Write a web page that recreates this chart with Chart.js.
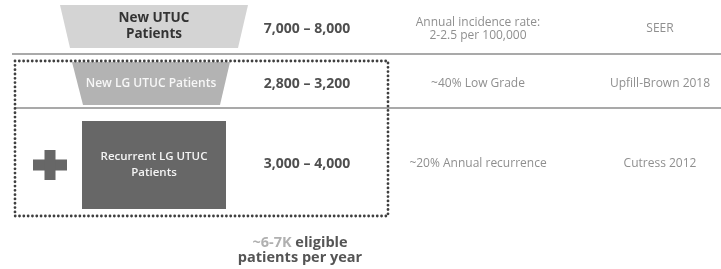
<!DOCTYPE html>
<html>
<head>
<meta charset="utf-8">
<script src="https://cdn.jsdelivr.net/npm/chart.js@4/dist/chart.umd.min.js"></script>
<style>
  html, body { margin: 0; padding: 0; background: #ffffff; }
  #wrap { width: 721px; height: 269px; }
</style>
</head>
<body>
<div id="wrap"><canvas id="c" width="721" height="269"></canvas></div>
<script>
// ---------- DATA ----------
const categories = ["New UTUC\nPatients", "New LG UTUC Patients", "Recurrent LG UTUC\nPatients"];
const lowValues  = [7000, 2800, 3000];
const highValues = [8000, 3200, 4000];
const notes      = ["Annual incidence rate:\n2-2.5 per 100,000", "~40% Low Grade", "~20% Annual recurrence"];
const sources    = ["SEER", "Upfill-Brown 2018", "Cutress 2012"];
const eligibleRange = "~6-7K";
const eligibleText  = ["eligible", "patients per year"];

// ---------- LAYOUT / STYLE (not data) ----------
const FONT = "'Open Sans', 'DejaVu Sans', sans-serif";
const LAYOUT = {
  rows: [
    { top: 5,   bottom: 48,  topL: 60, topR: 248, botL: 70, botR: 238, fill: "#d4d4d4", text: "#333333", font: "bold 13.5px", lineH: 16 },
    { top: 62,  bottom: 105, topL: 72, topR: 230, botL: 83, botR: 220, fill: "#b3b3b3", text: "#f7f7f7", font: "600 12px",   lineH: 15 },
    { top: 121, bottom: 209, topL: 82, topR: 226, botL: 82, botR: 226, fill: "#676767", text: "#f4f4f4", font: "600 11.5px", lineH: 16 }
  ],
  rowCenters: [29, 84, 164],
  colNumbers: 307,
  colNotes: 478,
  colSources: 660,
  dividers: [{ y: 54, x0: 12 }, { y: 108, x0: 15 }],
  dotBox: { x0: 15, x1: 388, y0: 61, y1: 216 },
  plus: { cx: 50, cy: 165, arm: 34, thick: 11 },
  footerY: [243, 258],
  footerX: 300
};

const fmt = v => v.toLocaleString('en-US');

const drawPlugin = {
  id: 'infographic',
  afterDraw(chart) {
    const ctx = chart.ctx;
    const xs = chart.scales.x, ys = chart.scales.y;
    const X = v => xs.getPixelForValue(v);
    const Y = v => ys.getPixelForValue(v);
    ctx.save();

    ctx.strokeStyle = "#a9a9a9";
    ctx.lineWidth = 2;
    LAYOUT.dividers.forEach(d => {
      ctx.beginPath();
      ctx.moveTo(X(d.x0), Y(d.y));
      ctx.lineTo(X(721), Y(d.y));
      ctx.stroke();
    });

    LAYOUT.rows.forEach((r, i) => {
      ctx.fillStyle = r.fill;
      ctx.beginPath();
      ctx.moveTo(X(r.topL), Y(r.top));
      ctx.lineTo(X(r.topR), Y(r.top));
      ctx.lineTo(X(r.botR), Y(r.bottom));
      ctx.lineTo(X(r.botL), Y(r.bottom));
      ctx.closePath();
      ctx.fill();

      const lines = categories[i].split("\n");
      ctx.fillStyle = r.text;
      ctx.font = r.font + " " + FONT;
      ctx.textAlign = "center";
      ctx.textBaseline = "middle";
      const cx = X((r.topL + r.topR) / 2);
      const cy = Y((r.top + r.bottom) / 2);
      lines.forEach((ln, k) => {
        ctx.fillText(ln, cx, cy + (k - (lines.length - 1) / 2) * r.lineH);
      });

      const rowY = Y(LAYOUT.rowCenters[i]);
      ctx.fillStyle = "#4f4f4f";
      ctx.font = "bold 14px " + FONT;
      ctx.fillText(fmt(lowValues[i]) + " \u2013 " + fmt(highValues[i]), X(LAYOUT.colNumbers), rowY);

      ctx.fillStyle = "#8f8f8f";
      ctx.font = "12px " + FONT;
      const nl = notes[i].split("\n");
      nl.forEach((ln, k) => {
        ctx.fillText(ln, X(LAYOUT.colNotes), rowY + (k - (nl.length - 1) / 2) * 12.5);
      });

      ctx.fillText(sources[i], X(LAYOUT.colSources), rowY);
    });

    const p = LAYOUT.plus;
    ctx.fillStyle = "#676767";
    ctx.fillRect(X(p.cx - p.arm / 2), Y(p.cy - p.thick / 2), p.arm, p.thick);
    ctx.fillRect(X(p.cx - p.thick / 2), Y(p.cy - p.arm / 2 + 2), p.thick, p.arm - 4);

    const b = LAYOUT.dotBox;
    ctx.strokeStyle = "#3f3f3f";
    ctx.lineWidth = 2.8;
    ctx.lineCap = "round";
    ctx.setLineDash([0.01, 4.3]);
    ctx.beginPath();
    ctx.rect(X(b.x0), Y(b.y0), X(b.x1) - X(b.x0), Y(b.y1) - Y(b.y0));
    ctx.stroke();
    ctx.setLineDash([]);

    ctx.font = "bold 14.5px " + FONT;
    ctx.textBaseline = "middle";
    const w1 = ctx.measureText(eligibleRange + " ").width;
    const w2 = ctx.measureText(eligibleText[0]).width;
    const startX = X(LAYOUT.footerX) - (w1 + w2) / 2;
    ctx.textAlign = "left";
    ctx.fillStyle = "#b0b0b0";
    ctx.fillText(eligibleRange + " ", startX, Y(LAYOUT.footerY[0]));
    ctx.fillStyle = "#555555";
    ctx.fillText(eligibleText[0], startX + w1, Y(LAYOUT.footerY[0]));
    ctx.textAlign = "center";
    ctx.fillText(eligibleText[1], X(LAYOUT.footerX), Y(LAYOUT.footerY[1]));

    ctx.restore();
  }
};

new Chart(document.getElementById('c'), {
  type: 'scatter',
  data: { datasets: [{ data: [], showLine: false }] },
  options: {
    responsive: false,
    animation: false,
    devicePixelRatio: 1,
    layout: { padding: 0 },
    plugins: { legend: { display: false }, tooltip: { enabled: false } },
    scales: {
      x: { type: 'linear', min: 0, max: 721, display: false },
      y: { type: 'linear', min: 0, max: 269, reverse: true, display: false }
    }
  },
  plugins: [drawPlugin]
});
</script>
</body>
</html>
